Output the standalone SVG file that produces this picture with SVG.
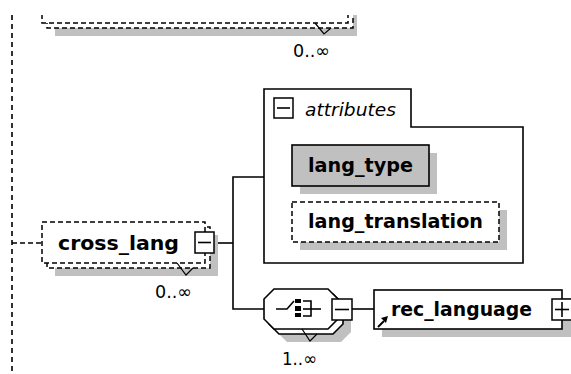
<svg xmlns="http://www.w3.org/2000/svg" width="571" height="374" viewBox="0 0 571 374">
<defs>
<style>
.ln{fill:none;stroke:#000;stroke-width:1.6}
.dbox{fill:#fff;stroke:#000;stroke-width:1.5;stroke-dasharray:5,3}
.sbox{fill:#fff;stroke:#000;stroke-width:1.6}
.shadow{fill:#c0c0c0;stroke:none}
.btn{fill:#fff;stroke:#000;stroke-width:1.5}
.mark{fill:none;stroke:#000;stroke-width:1.2}
.lbl{font-family:"DejaVu Sans","Liberation Sans",sans-serif;font-weight:bold;font-size:19px;fill:#000}
.occ{font-family:"DejaVu Sans","Liberation Sans",sans-serif;font-size:18px;fill:#000}
.attr{font-family:"DejaVu Sans","Liberation Sans",sans-serif;font-style:italic;font-size:17px;fill:#000}
</style>
<clipPath id="topclip"><rect x="0" y="15" width="571" height="359"/></clipPath>
</defs>
<rect width="571" height="374" fill="#fff"/>
<g id="connectors">
<line x1="12" y1="15" x2="12" y2="374" class="ln" stroke-dasharray="5,4"/>
<line x1="12" y1="243" x2="42" y2="243" class="ln" stroke-dasharray="5,3"/>
<polyline points="214,243 233,243" class="ln"/>
<polyline points="264,177 233,177 233,309 264,309" class="ln"/>
<line x1="352" y1="309" x2="374" y2="309" class="ln"/>
</g>
<g id="node-top">
<g clip-path="url(#topclip)">
<rect x="55" y="-12" width="302" height="48" class="shadow"/>
<rect x="47" y="-20" width="306" height="48" class="dbox"/>
<rect x="42" y="-25" width="306" height="48" class="dbox"/>
</g>
<polyline points="315,23 324,34 331,28" class="mark"/>
<text x="293" y="57" class="occ" textLength="37" lengthAdjust="spacingAndGlyphs">0..∞</text>
</g>
<g id="node-cross_lang">
<rect x="55" y="235" width="163" height="41" class="shadow"/>
<rect x="47" y="227" width="163" height="41" class="dbox"/>
<rect x="42" y="222" width="163" height="41" class="dbox"/>
<polyline points="177,263 186,275 193,268" class="mark"/>
<text x="58" y="250" class="lbl" textLength="121" lengthAdjust="spacingAndGlyphs">cross_lang</text>
<rect x="195" y="232" width="19" height="21" class="btn"/>
<line x1="198" y1="242.5" x2="211" y2="242.5" class="ln"/>
<text x="155" y="298" class="occ" textLength="37" lengthAdjust="spacingAndGlyphs">0..∞</text>
</g>
<g id="node-attributes">
<path d="M264,89 H411 V127 H523 V263 H264 Z" class="sbox"/>
<rect x="274" y="98" width="19" height="20" class="btn"/>
<line x1="277" y1="108" x2="290" y2="108" class="ln"/>
<text x="305" y="116" class="attr" textLength="91" lengthAdjust="spacingAndGlyphs">attributes</text>
</g>
<g id="node-lang_type">
<rect x="300" y="153" width="137" height="41" class="shadow"/>
<rect x="292" y="145" width="137" height="41" fill="#c0c0c0" stroke="#000" stroke-width="1.6"/>
<text x="308" y="172" class="lbl" textLength="105" lengthAdjust="spacingAndGlyphs">lang_type</text>
</g>
<g id="node-lang_translation">
<rect x="300" y="210" width="207" height="40" class="shadow"/>
<rect x="292" y="202" width="207" height="40" class="dbox"/>
<text x="308" y="228" class="lbl" textLength="175" lengthAdjust="spacingAndGlyphs">lang_translation</text>
</g>
<g id="node-sequence">
<polygon points="287,302 341,302 351,312 351,332 341,342 287,342 277,332 277,312" class="shadow"/>
<polygon points="279,294 333,294 343,304 343,324 333,334 279,334 269,324 269,304" class="sbox" stroke-width="1.3"/>
<polygon points="274,289 328,289 338,299 338,319 328,329 274,329 264,319 264,299" class="sbox" stroke-width="1.3"/>
<polyline points="302,329 310,341 317,334" class="mark"/>
<polyline points="276,309 287,309 294,301" class="ln" stroke-width="1.4"/>
<rect x="295" y="299" width="6" height="4"/>
<rect x="295" y="306" width="6" height="5"/>
<rect x="295" y="313" width="6" height="4"/>
<polyline points="303,301 311,301 311,316 303,316" class="ln" stroke-width="1.4"/>
<line x1="303" y1="309" x2="321" y2="309" class="ln" stroke-width="1.4"/>
<rect x="332" y="299" width="20" height="21" class="btn"/>
<line x1="335" y1="309.5" x2="349" y2="309.5" class="ln"/>
<text x="282" y="365" class="occ" textLength="35" lengthAdjust="spacingAndGlyphs">1..∞</text>
</g>
<g id="node-rec_language">
<rect x="382" y="298" width="189" height="39" class="shadow"/>
<rect x="374" y="290" width="188" height="39" class="sbox"/>
<line x1="378" y1="327" x2="384" y2="321" stroke="#000" stroke-width="2"/>
<polygon points="381,318 388,316 386,323" fill="#000"/>
<text x="391" y="316" class="lbl" textLength="141" lengthAdjust="spacingAndGlyphs">rec_language</text>
<rect x="552" y="299" width="20" height="21" class="btn"/>
<line x1="555" y1="309.5" x2="569" y2="309.5" class="ln"/>
<line x1="562" y1="302" x2="562" y2="317" class="ln"/>
</g>
</svg>
